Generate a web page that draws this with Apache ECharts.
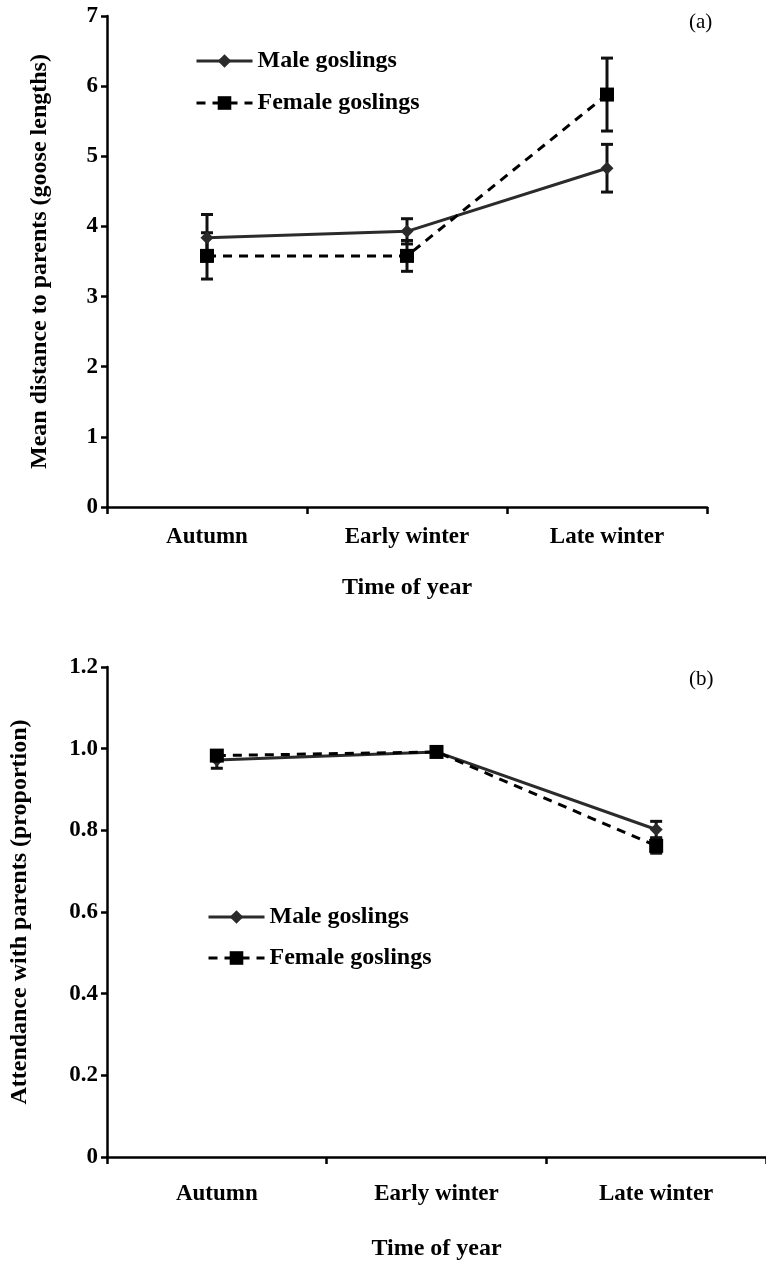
<!DOCTYPE html>
<html>
<head>
<meta charset="utf-8">
<title>Goslings</title>
<script src="https://cdn.jsdelivr.net/npm/echarts@6/dist/echarts.min.js"></script>
<style>
  html, body { margin: 0; padding: 0; background: #fff; }
  #chart { width: 766px; height: 1262px; }
</style>
</head>
<body>
<div id="chart"></div>
<script type="text/javascript">
// data
var seasons = ['Autumn', 'Early winter', 'Late winter'];

// (a) mean distance to parents, goose lengths
var maleDist = [3.84, 3.93, 4.83];
var maleDistErr = [0.33, 0.18, 0.34];
var femaleDist = [3.58, 3.58, 5.88];
var femaleDistErr = [0.33, 0.22, 0.52];

// (b) attendance with parents, proportion
var maleAtt = [0.972, 0.992, 0.802];
var maleAttErr = [0.02, 0.005, 0.02];
var femaleAtt = [0.983, 0.992, 0.762];
var femaleAttErr = [0.01, 0.005, 0.018];

var FONT = '"Liberation Serif", "DejaVu Serif", serif';
var maleColor = '#2b2b2b';
var femaleColor = '#000';

function errRows(vals, errs) {
    return vals.map(function (v, i) { return [i, v - errs[i], v + errs[i]]; });
}

// vertical bar with caps
function drawErr(params, api) {
    var hi = api.coord([api.value(0), api.value(2)]);
    var lo = api.coord([api.value(0), api.value(1)]);
    var w = 6;
    var st = { stroke: '#111', lineWidth: 3 };
    return {
        type: 'group',
        children: [
            { type: 'line', shape: { x1: hi[0], y1: hi[1], x2: lo[0], y2: lo[1] }, style: st },
            { type: 'line', shape: { x1: hi[0] - w, y1: hi[1], x2: hi[0] + w, y2: hi[1] }, style: st },
            { type: 'line', shape: { x1: lo[0] - w, y1: lo[1], x2: lo[0] + w, y2: lo[1] }, style: st }
        ]
    };
}

function xAxisFor(gridIndex, labelGap, nameGap) {
    return {
        type: 'category', gridIndex: gridIndex, data: seasons, boundaryGap: true,
        name: 'Time of year', nameLocation: 'middle', nameGap: nameGap,
        nameTextStyle: { fontFamily: FONT, fontWeight: 'bold', fontSize: 24, color: '#000' },
        axisLine: { lineStyle: { color: '#000', width: 2.5 } },
        axisTick: { show: true, length: 7, lineStyle: { color: '#000', width: 2.5 } },
        axisLabel: { fontFamily: FONT, fontWeight: 'bold', fontSize: 23, color: '#000', margin: labelGap },
        splitLine: { show: false }
    };
}

function yAxisFor(gridIndex, name, max, step, fmt, gap) {
    return {
        type: 'value', gridIndex: gridIndex, min: 0, max: max, interval: step,
        name: name, nameLocation: 'middle', nameGap: gap,
        nameTextStyle: { fontFamily: FONT, fontWeight: 'bold', fontSize: 24, color: '#000' },
        axisLine: { show: true, lineStyle: { color: '#000', width: 2.5 } },
        axisTick: { show: true, length: 6, lineStyle: { color: '#000', width: 2.5 } },
        axisLabel: { fontFamily: FONT, fontWeight: 'bold', fontSize: 23, color: '#000', margin: 9, formatter: fmt },
        splitLine: { show: false }
    };
}

function lineSeries(name, idx, vals, color, dashed, symbol) {
    return {
        name: name, type: 'line', xAxisIndex: idx, yAxisIndex: idx, data: vals,
        symbol: symbol, symbolSize: symbol === 'rect' ? 14 : 13,
        itemStyle: { color: color },
        lineStyle: { color: color, width: 3, type: dashed ? [9, 7] : 'solid' },
        z: 3
    };
}

function errSeries(idx, vals, errs) {
    return {
        type: 'custom', xAxisIndex: idx, yAxisIndex: idx,
        data: errRows(vals, errs), renderItem: drawErr, z: 2, silent: true
    };
}

var legendText = { fontFamily: FONT, fontWeight: 'bold', fontSize: 24, color: '#000' };
var legendLine = { width: 3 };

var chart = echarts.init(document.getElementById('chart'));
chart.setOption({
    animation: false,
    backgroundColor: '#fff',
    grid: [
        { left: 107, top: 16, width: 600, height: 491 },
        { left: 107, top: 667, width: 659, height: 490 }
    ],
    title: [
        { text: '(a)', left: 684, top: 7, textStyle: { fontFamily: FONT, fontWeight: 'normal', fontSize: 21, color: '#000' } },
        { text: '(b)', left: 684, top: 664, textStyle: { fontFamily: FONT, fontWeight: 'normal', fontSize: 21, color: '#000' } }
    ],
    legend: [
        { orient: 'vertical', left: 190, top: 44, itemWidth: 56, itemHeight: 17, itemGap: 18,
          data: ['Male goslings', 'Female goslings'], textStyle: legendText, lineStyle: legendLine },
        { orient: 'vertical', left: 202, top: 900, itemWidth: 56, itemHeight: 17, itemGap: 17,
          data: ['Male goslings ', 'Female goslings '], textStyle: legendText, lineStyle: legendLine }
    ],
    xAxis: [xAxisFor(0, 19, 69), xAxisFor(1, 26, 80)],
    yAxis: [
        yAxisFor(0, 'Mean distance to parents (goose lengths)', 7, 1, null, 55),
        yAxisFor(1, 'Attendance with parents (proportion)', 1.2, 0.2,
            function (v) { return v === 0 ? '0' : v.toFixed(1); }, 75)
    ],
    series: [
        errSeries(0, maleDist, maleDistErr),
        errSeries(0, femaleDist, femaleDistErr),
        lineSeries('Male goslings', 0, maleDist, maleColor, false, 'diamond'),
        lineSeries('Female goslings', 0, femaleDist, femaleColor, true, 'rect'),
        errSeries(1, maleAtt, maleAttErr),
        errSeries(1, femaleAtt, femaleAttErr),
        lineSeries('Male goslings ', 1, maleAtt, maleColor, false, 'diamond'),
        lineSeries('Female goslings ', 1, femaleAtt, femaleColor, true, 'rect')
    ]
});
</script>
</body>
</html>
